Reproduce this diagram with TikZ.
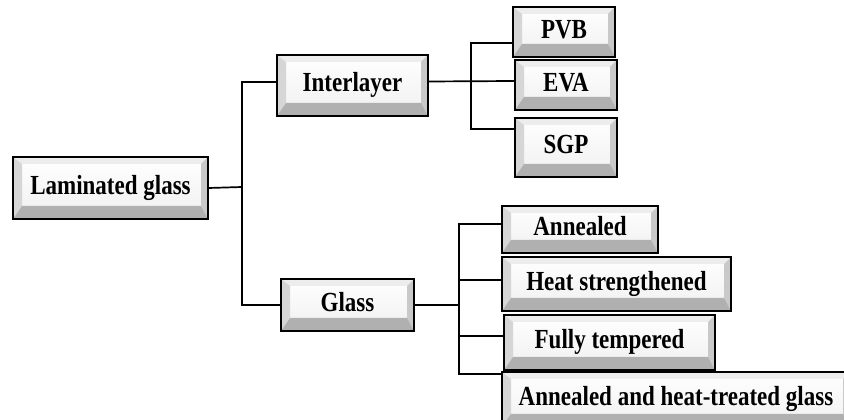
\documentclass[tikz,border=0pt]{standalone}
\usepackage{fontspec}
\setmainfont{Liberation Serif}
\usetikzlibrary{calc}
\definecolor{bvtop}{HTML}{EDEDED}
\definecolor{bvleft}{HTML}{D6D6D6}
\definecolor{bvright}{HTML}{C9C9C9}
\definecolor{bvbot}{HTML}{B0B0B0}
\tikzset{
  box/.style={draw=black, line width=1.6pt, inner sep=0pt, text height=19pt, text depth=0pt,
    font=\fontsize{23}{26}\selectfont\bfseries},
  conn/.style={draw=black, line width=1.7pt}
}
\newcommand\bevnode[6]{%
  \pgfmathsetmacro\bvW{#4-#2}\pgfmathsetmacro\bvH{#5-#3}%
  \begin{scope}[shift={(#2,420-#5)}]
    \shade[top color=white, bottom color=gray!12] (0,0) rectangle (\bvW,\bvH);
    \fill[bvtop] (0,\bvH) -- (\bvW,\bvH) -- (\bvW-7,\bvH-7) -- (9,\bvH-7) -- cycle;
    \fill[bvleft] (0,0) -- (0,\bvH) -- (9,\bvH-7) -- (9,13) -- cycle;
    \fill[bvright] (\bvW,0) -- (\bvW,\bvH) -- (\bvW-7,\bvH-7) -- (\bvW-7,13) -- cycle;
    \fill[bvbot] (0,0) -- (\bvW,0) -- (\bvW-7,13) -- (9,13) -- cycle;
  \end{scope}
  \node[box, minimum width=\bvW pt, minimum height=\bvH pt] (#1) at ({(#2+#4)/2},{420-(#3+#5)/2})
    {\raisebox{3pt}{\scalebox{1}[1.2]{#6}}};
}
\begin{document}
\begin{tikzpicture}[x=1pt,y=1pt]
  \useasboundingbox (0,0) rectangle (844,420);
  \fill[white] (0,0) rectangle (844,420);
  \clip (0,0) rectangle (844,420);

  \bevnode{lam}{13}{157}{208}{219}{Laminated glass}
  \bevnode{inter}{277}{55}{428}{116}{Interlayer}
  \bevnode{glass}{281}{279}{414}{331}{Glass}
  \bevnode{pvb}{513}{7}{615}{57}{PVB}
  \bevnode{eva}{515}{60}{617}{110}{EVA}
  \bevnode{sgp}{515}{118}{617}{177}{SGP}
  \bevnode{ann}{502}{206}{658}{253}{Annealed}
  \bevnode{heat}{502}{257}{731}{311}{Heat strengthened}
  \bevnode{fully}{504}{315}{715}{370}{Fully tempered}
  \bevnode{last}{502}{372}{850}{427}{Annealed and heat-treated glass}

  \coordinate (t1) at (242,420-187);
  \coordinate (t2) at (471,420-81);
  \coordinate (t3) at (459,420-305);

  % left tree
  \draw[conn] (lam.east) -- (t1);
  \draw[conn] ([yshift=3.5pt]inter.west) -| (t1);
  \draw[conn] (glass.west) -| (t1);

  % interlayer tree
  \draw[conn] ([yshift=4pt]inter.east) -- ([yshift=4pt]eva.west);
  \draw[conn] ([yshift=-11pt]pvb.west) -| (t2) |- ([yshift=18.5pt]sgp.west);

  % glass tree
  \draw[conn] (glass.east) -- (t3);
  \draw[conn] ([yshift=5.5pt]ann.west) -| (t3) |- ([yshift=25.5pt]last.west);
  \path ([yshift=4pt]heat.west) coordinate (hw);
  \path ([yshift=6.5pt]fully.west) coordinate (fw);
  \draw[conn] (hw) -- (hw -| t3);
  \draw[conn] (fw) -- (fw -| t3);
\end{tikzpicture}
\end{document}
